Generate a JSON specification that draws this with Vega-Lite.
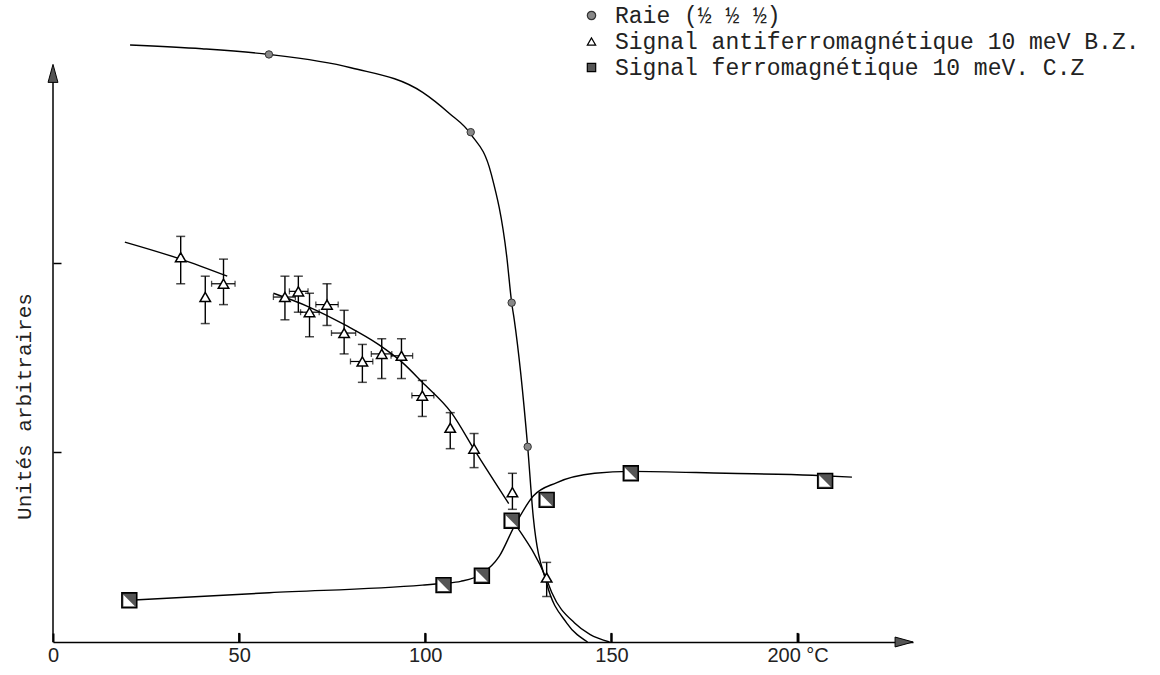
{
  "$schema": "https://vega.github.io/schema/vega-lite/v6.json",
  "width": 860,
  "height": 616,
  "autosize": {"type": "none"},
  "padding": {"left": 53, "top": 26, "right": 247, "bottom": 33},
  "background": "white",
  "config": {
    "view": {"stroke": null},
    "font": "Liberation Mono",
    "legend": {
      "orient": "none",
      "legendX": 527,
      "legendY": -22,
      "title": null,
      "padding": 0,
      "labelFont": "Liberation Mono",
      "labelFontSize": 23,
      "labelColor": "#222",
      "labelLimit": 0,
      "labelOffset": 12,
      "rowPadding": 2,
      "symbolSize": 70,
      "symbolStrokeWidth": 1.2
    }
  },
  "datasets": {
    "curves": [
      {"c": "raie", "T": 20.7, "Y": 3.15}, {"c": "raie", "T": 40, "Y": 3.13}, {"c": "raie", "T": 58, "Y": 3.10},
      {"c": "raie", "T": 80, "Y": 3.03}, {"c": "raie", "T": 99.3, "Y": 2.90}, {"c": "raie", "T": 106.4, "Y": 2.79},
      {"c": "raie", "T": 112.2, "Y": 2.68}, {"c": "raie", "T": 117.7, "Y": 2.47}, {"c": "raie", "T": 121.9, "Y": 2.03},
      {"c": "raie", "T": 123.2, "Y": 1.79}, {"c": "raie", "T": 123.9, "Y": 1.70}, {"c": "raie", "T": 127.5, "Y": 1.03},
      {"c": "raie", "T": 129, "Y": 0.66}, {"c": "raie", "T": 132.6, "Y": 0.31}, {"c": "raie", "T": 138, "Y": 0.10},
      {"c": "raie", "T": 143.6, "Y": 0},
      {"c": "afm_a", "T": 19.3, "Y": 2.11}, {"c": "afm_a", "T": 34.3, "Y": 2.02}, {"c": "afm_a", "T": 46.8, "Y": 1.93},
      {"c": "afm_b", "T": 59.2, "Y": 1.84}, {"c": "afm_b", "T": 68.5, "Y": 1.77}, {"c": "afm_b", "T": 78.7, "Y": 1.67},
      {"c": "afm_b", "T": 87.4, "Y": 1.57}, {"c": "afm_b", "T": 94.1, "Y": 1.47}, {"c": "afm_b", "T": 99.2, "Y": 1.37},
      {"c": "afm_b", "T": 107, "Y": 1.21}, {"c": "afm_b", "T": 113.6, "Y": 1.00}, {"c": "afm_b", "T": 122.4, "Y": 0.73},
      {"c": "afm_c", "T": 124.9, "Y": 0.60}, {"c": "afm_c", "T": 132.6, "Y": 0.33}, {"c": "afm_c", "T": 134, "Y": 0.26},
      {"c": "afm_c", "T": 140.1, "Y": 0.10}, {"c": "afm_c", "T": 144.2, "Y": 0.04}, {"c": "afm_c", "T": 149.5, "Y": 0},
      {"c": "fm", "T": 20.5, "Y": 0.22}, {"c": "fm", "T": 58.1, "Y": 0.26}, {"c": "fm", "T": 99.2, "Y": 0.30},
      {"c": "fm", "T": 104.9, "Y": 0.31}, {"c": "fm", "T": 109.5, "Y": 0.32}, {"c": "fm", "T": 115.2, "Y": 0.36},
      {"c": "fm", "T": 119.8, "Y": 0.45}, {"c": "fm", "T": 123.9, "Y": 0.61}, {"c": "fm", "T": 129, "Y": 0.77},
      {"c": "fm", "T": 135.2, "Y": 0.84}, {"c": "fm", "T": 145.5, "Y": 0.89}, {"c": "fm", "T": 155.2, "Y": 0.90},
      {"c": "fm", "T": 180.8, "Y": 0.89}, {"c": "fm", "T": 204, "Y": 0.88}, {"c": "fm", "T": 214.6, "Y": 0.87}
    ],
    "raie": [
      {"serie": "Raie (½ ½ ½)", "T": 58.0, "Y": 3.10},
      {"serie": "Raie (½ ½ ½)", "T": 112.2, "Y": 2.69},
      {"serie": "Raie (½ ½ ½)", "T": 123.2, "Y": 1.79},
      {"serie": "Raie (½ ½ ½)", "T": 127.5, "Y": 1.03}
    ],
    "afm": [
      {"serie": "Signal antiferromagnétique 10 meV B.Z.", "T": 34.3, "Y": 2.03, "ylo": 1.89, "yhi": 2.14},
      {"serie": "Signal antiferromagnétique 10 meV B.Z.", "T": 40.9, "Y": 1.82, "ylo": 1.68, "yhi": 1.93},
      {"serie": "Signal antiferromagnétique 10 meV B.Z.", "T": 45.8, "Y": 1.89, "ylo": 1.78, "yhi": 2.02, "tlo": 42.6, "thi": 48.9},
      {"serie": "Signal antiferromagnétique 10 meV B.Z.", "T": 62.3, "Y": 1.82, "ylo": 1.70, "yhi": 1.93, "tlo": 59.2, "thi": 65.1},
      {"serie": "Signal antiferromagnétique 10 meV B.Z.", "T": 65.9, "Y": 1.85, "ylo": 1.74, "yhi": 1.93, "tlo": 63.5, "thi": 68.5},
      {"serie": "Signal antiferromagnétique 10 meV B.Z.", "T": 68.9, "Y": 1.74, "ylo": 1.61, "yhi": 1.84, "tlo": 66.5, "thi": 71.5},
      {"serie": "Signal antiferromagnétique 10 meV B.Z.", "T": 73.6, "Y": 1.78, "ylo": 1.67, "yhi": 1.89, "tlo": 70.6, "thi": 76.6},
      {"serie": "Signal antiferromagnétique 10 meV B.Z.", "T": 78.2, "Y": 1.63, "ylo": 1.52, "yhi": 1.75, "tlo": 74.8, "thi": 81.3},
      {"serie": "Signal antiferromagnétique 10 meV B.Z.", "T": 83.1, "Y": 1.48, "ylo": 1.37, "yhi": 1.57, "tlo": 79.9, "thi": 85.9},
      {"serie": "Signal antiferromagnétique 10 meV B.Z.", "T": 88.3, "Y": 1.52, "ylo": 1.39, "yhi": 1.60, "tlo": 85.5, "thi": 91.0},
      {"serie": "Signal antiferromagnétique 10 meV B.Z.", "T": 93.6, "Y": 1.51, "ylo": 1.39, "yhi": 1.60, "tlo": 90.8, "thi": 96.6},
      {"serie": "Signal antiferromagnétique 10 meV B.Z.", "T": 99.2, "Y": 1.30, "ylo": 1.19, "yhi": 1.38, "tlo": 96.4, "thi": 102.3},
      {"serie": "Signal antiferromagnétique 10 meV B.Z.", "T": 106.7, "Y": 1.13, "ylo": 1.02, "yhi": 1.21},
      {"serie": "Signal antiferromagnétique 10 meV B.Z.", "T": 113.1, "Y": 1.02, "ylo": 0.92, "yhi": 1.10},
      {"serie": "Signal antiferromagnétique 10 meV B.Z.", "T": 123.4, "Y": 0.79, "ylo": 0.70, "yhi": 0.89},
      {"serie": "Signal antiferromagnétique 10 meV B.Z.", "T": 132.6, "Y": 0.34, "ylo": 0.24, "yhi": 0.42}
    ],
    "fm": [
      {"serie": "Signal ferromagnétique 10 meV. C.Z", "T": 20.5, "Y": 0.22},
      {"serie": "Signal ferromagnétique 10 meV. C.Z", "T": 104.9, "Y": 0.30},
      {"serie": "Signal ferromagnétique 10 meV. C.Z", "T": 115.2, "Y": 0.35},
      {"serie": "Signal ferromagnétique 10 meV. C.Z", "T": 123.2, "Y": 0.64},
      {"serie": "Signal ferromagnétique 10 meV. C.Z", "T": 132.6, "Y": 0.75},
      {"serie": "Signal ferromagnétique 10 meV. C.Z", "T": 155.2, "Y": 0.89},
      {"serie": "Signal ferromagnétique 10 meV. C.Z", "T": 207.4, "Y": 0.85}
    ],
    "origin": [{"T": 0, "Y": 0, "Ytop": 3.0, "Tend": 228.6}],
    "xticks": [
      {"T": 50, "Y": 0, "Yt": 0.048},
      {"T": 100, "Y": 0, "Yt": 0.048},
      {"T": 150, "Y": 0, "Yt": 0.048},
      {"T": 200, "Y": 0, "Yt": 0.048}
    ]
  },
  "layer": [
    {
      "data": {"name": "curves"},
      "mark": {"type": "line", "interpolate": "monotone", "color": "black", "strokeWidth": 1.4},
      "encoding": {
        "x": {
          "field": "T", "type": "quantitative",
          "scale": {"domain": [0, 231], "nice": false, "zero": false},
          "axis": {
            "title": null,
            "values": [0, 50, 100, 150, 200],
            "grid": false,
            "domainColor": "black",
            "domainWidth": 1.5,
            "ticks": true,
            "tickColor": "black",
            "tickWidth": 2,
            "tickSize": -9,
            "labelFont": "Liberation Sans",
            "labelFontSize": 20,
            "labelColor": "#222",
            "labelPadding": 12,
            "labelFlush": false,
            "labelOverlap": false,
            "labelExpr": "datum.value == 200 ? '\u2007\u2007 200 °C' : datum.label"
          }
        },
        "y": {
          "field": "Y", "type": "quantitative",
          "scale": {"domain": [0, 3.25], "nice": false, "zero": false},
          "axis": {
            "title": "Unités arbitraires",
            "values": [1, 2],
            "labels": false,
            "domain": false,
            "grid": false,
            "tickColor": "black",
            "tickWidth": 1.5,
            "tickSize": -8,
            "titleFont": "Liberation Mono",
            "titleFontSize": 21,
            "titleFontWeight": "normal",
            "titleColor": "#222",
            "titleAngle": -90,
            "titleAlign": "center",
            "titleBaseline": "middle",
            "titleX": -29,
            "titleY": 380
          }
        },
        "detail": {"field": "c", "type": "nominal"}
      }
    },
    {
      "data": {"name": "xticks"},
      "mark": {"type": "rule", "color": "black", "strokeWidth": 2},
      "encoding": {
        "x": {"field": "T", "type": "quantitative"},
        "y": {"field": "Y", "type": "quantitative"},
        "y2": {"field": "Yt"}
      }
    },
    {
      "data": {"name": "origin"},
      "mark": {"type": "rule", "color": "black", "strokeWidth": 1.5},
      "encoding": {
        "x": {"field": "T", "type": "quantitative"},
        "y": {"field": "Y", "type": "quantitative"},
        "y2": {"field": "Ytop"}
      }
    },
    {
      "data": {"name": "origin"},
      "mark": {"type": "point", "shape": "M0,-1L0.55,1L-0.55,1Z", "size": 324, "filled": true, "fill": "#555", "stroke": "black", "strokeWidth": 1, "opacity": 1},
      "encoding": {"x": {"field": "T", "type": "quantitative"}, "y": {"field": "Ytop", "type": "quantitative"}}
    },
    {
      "data": {"name": "origin"},
      "mark": {"type": "point", "shape": "M1,0L-1,-0.55L-1,0.55Z", "size": 324, "filled": true, "fill": "#555", "stroke": "black", "strokeWidth": 1, "opacity": 1},
      "encoding": {"x": {"field": "Tend", "type": "quantitative"}, "y": {"field": "Y", "type": "quantitative"}}
    },
    {
      "data": {"name": "afm"},
      "mark": {"type": "rule", "color": "black", "strokeWidth": 1.4},
      "encoding": {
        "x": {"field": "T", "type": "quantitative"},
        "y": {"field": "ylo", "type": "quantitative"},
        "y2": {"field": "yhi"}
      }
    },
    {
      "data": {"name": "afm"},
      "mark": {"type": "tick", "orient": "horizontal", "size": 9, "thickness": 1.5, "color": "black"},
      "encoding": {"x": {"field": "T", "type": "quantitative"}, "y": {"field": "ylo", "type": "quantitative"}}
    },
    {
      "data": {"name": "afm"},
      "mark": {"type": "tick", "orient": "horizontal", "size": 9, "thickness": 1.5, "color": "black"},
      "encoding": {"x": {"field": "T", "type": "quantitative"}, "y": {"field": "yhi", "type": "quantitative"}}
    },
    {
      "data": {"name": "afm"},
      "transform": [{"filter": "isValid(datum.tlo)"}],
      "mark": {"type": "rule", "color": "black", "strokeWidth": 1.2},
      "encoding": {
        "x": {"field": "tlo", "type": "quantitative"},
        "x2": {"field": "thi"},
        "y": {"field": "Y", "type": "quantitative"}
      }
    },
    {
      "data": {"name": "afm"},
      "transform": [{"filter": "isValid(datum.tlo)"}],
      "mark": {"type": "tick", "orient": "vertical", "size": 6, "thickness": 1.3, "color": "black"},
      "encoding": {"x": {"field": "tlo", "type": "quantitative"}, "y": {"field": "Y", "type": "quantitative"}}
    },
    {
      "data": {"name": "afm"},
      "transform": [{"filter": "isValid(datum.tlo)"}],
      "mark": {"type": "tick", "orient": "vertical", "size": 6, "thickness": 1.3, "color": "black"},
      "encoding": {"x": {"field": "thi", "type": "quantitative"}, "y": {"field": "Y", "type": "quantitative"}}
    },
    {
      "data": {"name": "raie"},
      "mark": {"type": "point", "filled": true, "size": 55, "strokeWidth": 1, "opacity": 1},
      "encoding": {
        "x": {"field": "T", "type": "quantitative"},
        "y": {"field": "Y", "type": "quantitative"},
        "shape": {"field": "serie", "type": "nominal", "scale": {"domain": ["Raie (½ ½ ½)", "Signal antiferromagnétique 10 meV B.Z.", "Signal ferromagnétique 10 meV. C.Z"], "range": ["circle", "triangle-up", "square"]}},
        "fill": {"field": "serie", "type": "nominal", "scale": {"domain": ["Raie (½ ½ ½)", "Signal antiferromagnétique 10 meV B.Z.", "Signal ferromagnétique 10 meV. C.Z"], "range": ["#888", "white", "#555"]}},
        "stroke": {"field": "serie", "type": "nominal", "scale": {"domain": ["Raie (½ ½ ½)", "Signal antiferromagnétique 10 meV B.Z.", "Signal ferromagnétique 10 meV. C.Z"], "range": ["#333", "black", "black"]}}
      }
    },
    {
      "data": {"name": "afm"},
      "mark": {"type": "point", "filled": true, "size": 110, "strokeWidth": 1.5, "opacity": 1},
      "encoding": {
        "x": {"field": "T", "type": "quantitative"},
        "y": {"field": "Y", "type": "quantitative"},
        "shape": {"field": "serie", "type": "nominal", "scale": {"domain": ["Raie (½ ½ ½)", "Signal antiferromagnétique 10 meV B.Z.", "Signal ferromagnétique 10 meV. C.Z"], "range": ["circle", "triangle-up", "square"]}},
        "fill": {"field": "serie", "type": "nominal", "scale": {"domain": ["Raie (½ ½ ½)", "Signal antiferromagnétique 10 meV B.Z.", "Signal ferromagnétique 10 meV. C.Z"], "range": ["#888", "white", "#555"]}},
        "stroke": {"field": "serie", "type": "nominal", "scale": {"domain": ["Raie (½ ½ ½)", "Signal antiferromagnétique 10 meV B.Z.", "Signal ferromagnétique 10 meV. C.Z"], "range": ["#333", "black", "black"]}}
      }
    },
    {
      "data": {"name": "fm"},
      "mark": {"type": "point", "filled": true, "size": 220, "strokeWidth": 1.6, "opacity": 1},
      "encoding": {
        "x": {"field": "T", "type": "quantitative"},
        "y": {"field": "Y", "type": "quantitative"},
        "shape": {"field": "serie", "type": "nominal", "scale": {"domain": ["Raie (½ ½ ½)", "Signal antiferromagnétique 10 meV B.Z.", "Signal ferromagnétique 10 meV. C.Z"], "range": ["circle", "triangle-up", "square"]}},
        "fill": {"field": "serie", "type": "nominal", "scale": {"domain": ["Raie (½ ½ ½)", "Signal antiferromagnétique 10 meV B.Z.", "Signal ferromagnétique 10 meV. C.Z"], "range": ["#888", "white", "#555"]}},
        "stroke": {"field": "serie", "type": "nominal", "scale": {"domain": ["Raie (½ ½ ½)", "Signal antiferromagnétique 10 meV B.Z.", "Signal ferromagnétique 10 meV. C.Z"], "range": ["#333", "black", "black"]}}
      }
    },
    {
      "data": {"name": "fm"},
      "mark": {"type": "point", "shape": "M-0.8,-0.75L-0.8,0.8L0.75,0.8Z", "filled": true, "fill": "white", "size": 220, "strokeWidth": 0, "opacity": 1},
      "encoding": {
        "x": {"field": "T", "type": "quantitative"},
        "y": {"field": "Y", "type": "quantitative"}
      }
    }
  ]
}
